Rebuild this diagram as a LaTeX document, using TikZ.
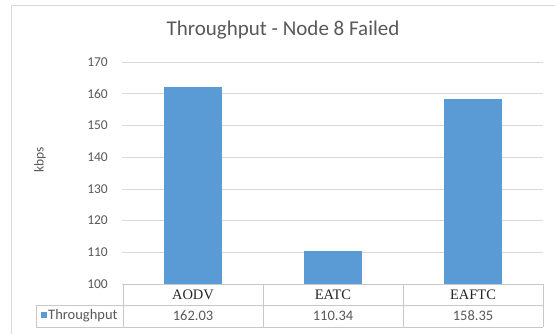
\documentclass[tikz,border=0pt]{standalone}
\usepackage{fontspec}
\setmainfont{Carlito}
\newfontfamily\catfont{Liberation Serif}
\definecolor{barblue}{HTML}{5B9BD5}
\definecolor{gridgray}{HTML}{D9D9D9}
\definecolor{txtgray}{HTML}{595959}
\definecolor{tabgray}{HTML}{C8C8C8}

\begin{document}
\begin{tikzpicture}[x=1pt,y=-1pt,
    gridline/.style={draw=gridgray,line width=0.8pt},
    tabline/.style={draw=tabgray,line width=0.8pt},
    ticklabel/.style={anchor=east,text=txtgray,inner sep=0pt,font=\fontsize{13.5}{15}\selectfont},
    cell/.style={text=txtgray,inner sep=0pt,font=\fontsize{14.5}{16}\selectfont},
    catlabel/.style={text=black!85,inner sep=0pt,font=\catfont\fontsize{14.5}{16}\selectfont},
    barbox/.style={fill=barblue,draw=none}]
    \useasboundingbox (0,0) rectangle (555,333);
    \clip (0,0) rectangle (555,333);
    \fill[white] (0,0) rectangle (555,333);
    \draw[gridgray] (11,5) rectangle (570,345);

    \node[text=txtgray,font=\fontsize{21}{24}\selectfont] (title) at (283,30) {Throughput - Node 8 Failed};
    \node[text=txtgray,rotate=90,font=\fontsize{13.5}{15}\selectfont] (ylabel) at (40,160) {kbps};

    % grid and ticks
    \foreach \v in {100,110,...,170}{
      \pgfmathsetmacro\yy{284-(\v-100)*3.17}
      \draw[gridline] (122,\yy) -- (543,\yy);
      \node[ticklabel] (tick\v) at (108,\yy) {\v};
    }

    % bars and table cells
    \foreach \name/\val/\cx in {AODV/162.03/193,EATC/110.34/333,EAFTC/158.35/473}{
      \pgfmathsetmacro\ytop{284-(\val-100)*3.17}
      \fill[barbox] (\cx-29,284) rectangle (\cx+29,\ytop);
      \node[catlabel] (cat\name) at (\cx,295) {\name};
      \node[cell] (val\name) at (\cx,316) {\val};
    }

    % table
    \draw[tabline] (123,284) -- (543,284) (36,305) -- (543,305) (36,327) -- (543,327);
    \foreach \xx in {123,263,403,543}
      \draw[tabline] (\xx,284) -- (\xx,327);
    \draw[tabline] (36,305) -- (36,327);
    \fill[barblue] (41,312) rectangle (47,318);
    \node[cell,anchor=west] (legend) at (48,316) {Throughput};
  \end{tikzpicture}
\end{document}
